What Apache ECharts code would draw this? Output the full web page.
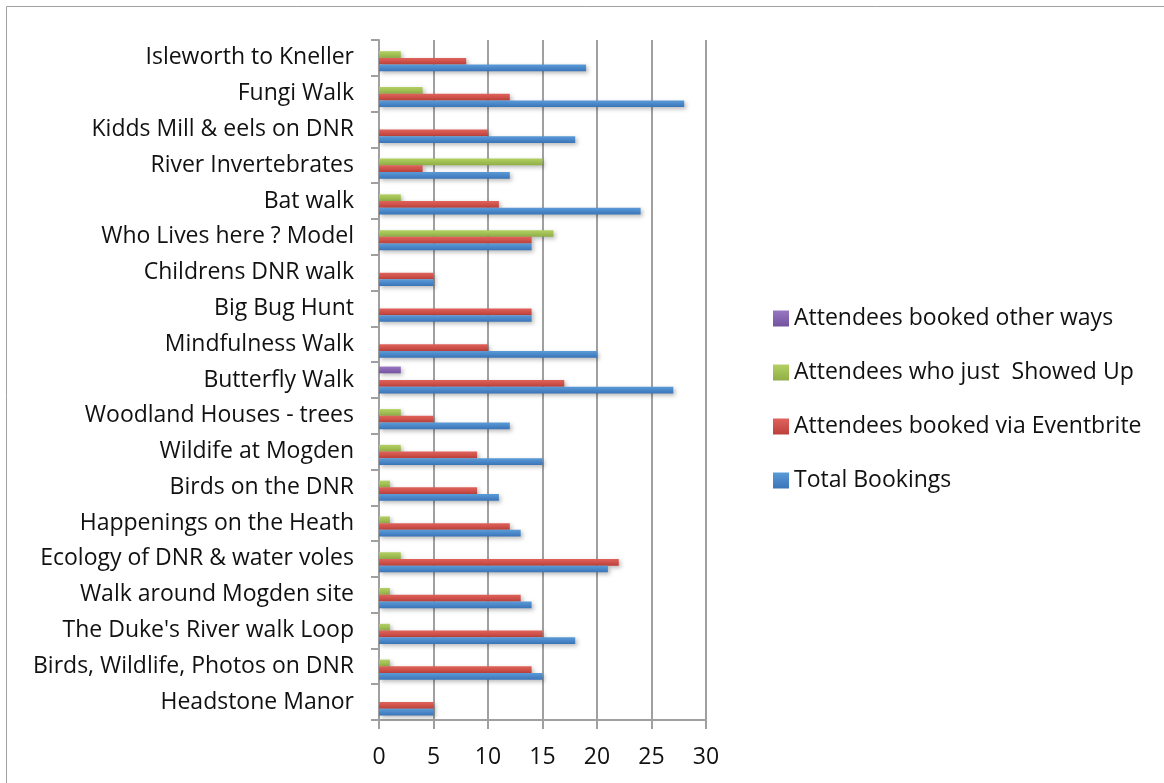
<!DOCTYPE html>
<html lang="en">
<head>
  <meta charset="UTF-8">
  <title>Event bookings</title>
  <style>
    #container, html, body {
      margin: 0;
      padding: 0;
      height: 100%;
      width: 100%;
      background: #fff;
    }
  </style>
</head>
<body>
  <div id="container"></div>
</body>
<script src="https://cdn.jsdelivr.net/npm/echarts@6/dist/echarts.min.js"></script>
<script>
  // categories, bottom to top
  var events = [
    'Headstone Manor',
    'Birds, Wildlife, Photos on DNR',
    "The Duke's River walk Loop",
    'Walk around Mogden site',
    'Ecology of DNR & water voles',
    'Happenings on the Heath',
    'Birds on the DNR',
    'Wildife at Mogden',
    'Woodland Houses - trees',
    'Butterfly Walk',
    'Mindfulness Walk',
    'Big Bug Hunt',
    'Childrens DNR walk',
    'Who Lives here ? Model',
    'Bat walk',
    'River Invertebrates',
    'Kidds Mill & eels on DNR',
    'Fungi Walk',
    'Isleworth to Kneller'
  ]
  var totalBookings = [5, 15, 18, 14, 21, 13, 11, 15, 12, 27, 20, 14, 5, 14, 24, 12, 18, 28, 19]
  var viaEventbrite = [5, 14, 15, 13, 22, 12, 9, 9, 5, 17, 10, 14, 5, 14, 11, 4, 10, 12, 8]
  var showedUp = [0, 1, 1, 1, 2, 1, 1, 2, 2, 0, 0, 0, 0, 16, 2, 15, 0, 4, 2]
  var otherWays = [0, 0, 0, 0, 0, 0, 0, 0, 0, 2, 0, 0, 0, 0, 0, 0, 0, 0, 0]
  var xTicks = [0, 5, 10, 15, 20, 25, 30]

  var font = '"Open Sans", "Noto Sans", sans-serif'

  var grad = function (top, bottom) {
    return new echarts.graphic.LinearGradient(0, 0, 0, 1, [
      {offset: 0, color: top},
      {offset: 1, color: bottom}
    ])
  }
  var barSeries = function (name, data, top, bottom) {
    return {
      name: name,
      type: 'bar',
      data: data,
      barGap: '0%',
      barCategoryGap: '25%',
      itemStyle: {
        color: grad(top, bottom),
        shadowColor: 'rgba(0,0,0,0.28)',
        shadowBlur: 4,
        shadowOffsetX: 2,
        shadowOffsetY: 2
      }
    }
  }

  var charts = echarts.init(document.querySelector('#container'))
  var option = {
    animation: false,
    textStyle: {fontFamily: font},
    graphic: [{
      type: 'rect',
      shape: {x: 6.5, y: 6.5, width: 1200, height: 900},
      style: {fill: 'none', stroke: '#a0a0a0', lineWidth: 1}
    }],
    grid: {left: 379, right: 458, top: 40, bottom: 63},
    legend: {
      orient: 'vertical',
      left: 768,
      top: 302,
      itemWidth: 16,
      itemHeight: 16,
      itemGap: 31,
      icon: 'rect',
      textStyle: {fontFamily: font, fontSize: 23, color: '#111'},
      data: ['Attendees booked other ways', 'Attendees who just  Showed Up', 'Attendees booked via Eventbrite', 'Total Bookings']
    },
    xAxis: {
      type: 'value',
      min: xTicks[0],
      max: xTicks[xTicks.length - 1],
      interval: 5,
      axisLine: {show: true, lineStyle: {color: '#a0a0a0', width: 2}},
      axisTick: {show: true, length: 9, lineStyle: {color: '#a0a0a0', width: 2}},
      axisLabel: {fontFamily: font, fontSize: 23, color: '#111', margin: 26},
      splitLine: {show: true, lineStyle: {color: '#a0a0a0', width: 2}}
    },
    yAxis: {
      type: 'category',
      data: events,
      axisLine: {show: true, lineStyle: {color: '#a0a0a0', width: 2}},
      axisTick: {show: true, length: 8, lineStyle: {color: '#a0a0a0', width: 2}},
      axisLabel: {fontFamily: font, fontSize: 23, color: '#111', margin: 25, padding: [7, 0, 0, 0]}
    },
    // ECharts stacks horizontal groups top-down, so the top bar comes first
    series: [
      barSeries('Attendees booked other ways', otherWays, '#9a76c2', '#7352a0'),
      barSeries('Attendees who just  Showed Up', showedUp, '#b3d161', '#8fae45'),
      barSeries('Attendees booked via Eventbrite', viaEventbrite, '#e0625b', '#bd413b'),
      barSeries('Total Bookings', totalBookings, '#5b9bd8', '#3a74b8')
    ]
  }
  charts.setOption(option)
  window.onresize = charts.resize
</script>
</html>
